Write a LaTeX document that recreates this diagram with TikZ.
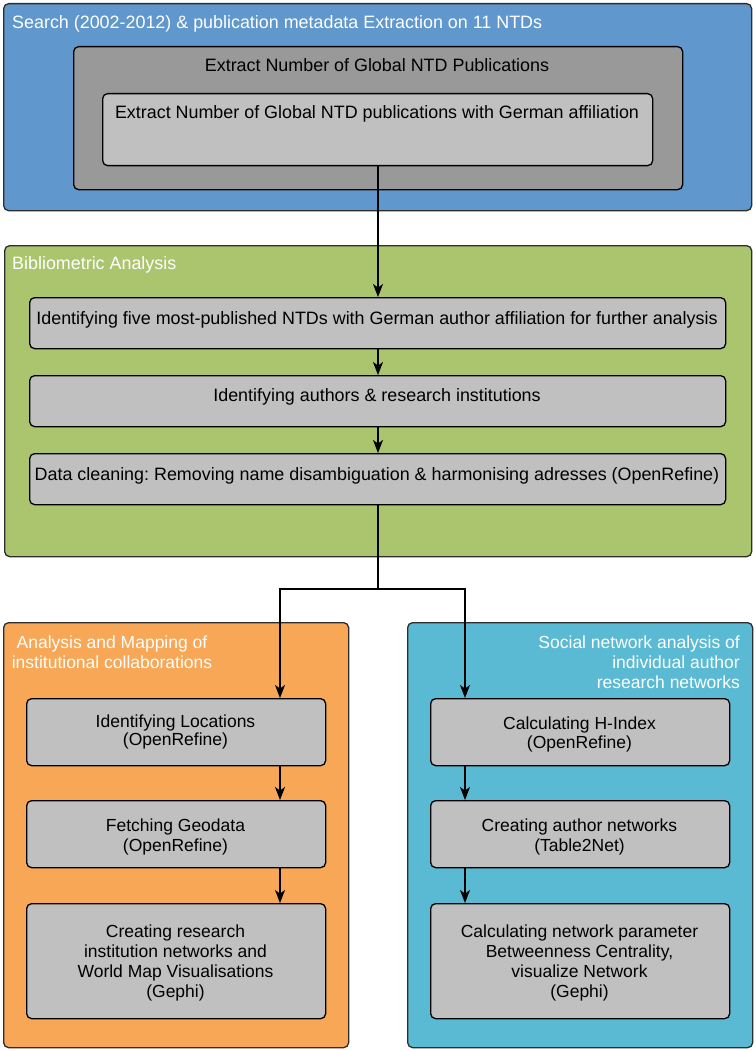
\documentclass[tikz,border=0pt]{standalone}
\usepackage{fontspec}
\setmainfont{Liberation Sans}
\usetikzlibrary{arrows.meta}
\definecolor{cblue}{RGB}{96,151,204}
\definecolor{cgreen}{RGB}{171,196,110}
\definecolor{corange}{RGB}{248,167,87}
\definecolor{cteal}{RGB}{91,186,211}
\definecolor{cdark}{RGB}{153,153,153}
\definecolor{clight}{RGB}{192,192,192}
\definecolor{cedge}{RGB}{45,45,45}
\frenchspacing
\begin{document}
\begin{tikzpicture}[x=1pt,y=-1pt,
  font=\fontsize{17.5}{20}\selectfont,
  big/.style={font=\fontsize{17.9}{20}\selectfont},
  outer/.style={draw=cedge, line width=1.3pt, rounded corners=5pt, anchor=north west, inner sep=0pt},
  box/.style={draw=black, line width=1.3pt, rounded corners=5pt, fill=clight, anchor=north west, inner sep=0pt},
  conn/.style={line width=1.2pt, -{Stealth[length=13pt,width=10pt,inset=3.5pt]}},
  plain/.style={line width=1.2pt},
  ttl/.style={text=white, inner sep=0pt},
  txt/.style={inner sep=0pt, align=center}]
\useasboundingbox (0,0) rectangle (755,1051);

% section 1
\node[outer, fill=cblue, minimum width=748pt, minimum height=207pt] (blue) at (3,3) {};
\node[ttl, big, anchor=base west] (bluet) at (12,29) {Search (2002-2012) \& publication metadata Extraction on 11 NTDs};
\node[box, fill=cdark, minimum width=609pt, minimum height=143pt] (dark) at (73,46) {};
\node[txt, big, anchor=base] (darkt) at (377,72) {Extract Number of Global NTD Publications};
\node[box, minimum width=550pt, minimum height=72pt] (light) at (102,93) {};
\node[txt, big, anchor=base] (lightt) at (377,119) {Extract Number of Global NTD publications with German affiliation};

% section 2
\node[outer, fill=cgreen, minimum width=747pt, minimum height=311pt] (green) at (4,245) {};
\node[ttl, big, anchor=base west] (greent) at (12,269) {Bibliometric Analysis};
\node[box, minimum width=696pt, minimum height=51pt] (g1) at (29,297) {};
\node[txt, big, anchor=base] (g1t) at (377,324) {Identifying five most-published NTDs with German author affiliation for further analysis};
\node[box, minimum width=696pt, minimum height=51pt] (g2) at (29,375) {};
\node[txt, big, anchor=base] (g2t) at (377,401) {Identifying authors \& research institutions};
\node[box, minimum width=696pt, minimum height=51pt] (g3) at (29,453) {};
\node[txt, big, anchor=base] (g3t) at (377,480) {Data cleaning: Removing name disambiguation \& harmonising adresses (OpenRefine)};

% section 3 left
\node[outer, fill=corange, minimum width=345pt, minimum height=425pt] (orange) at (3,622) {};
\node[ttl, align=center] (oranget) at (112,652.5) {Analysis and Mapping of\\institutional collaborations};
\node[box, minimum width=299pt, minimum height=67pt] (o1) at (26,698) {};
\node[txt, font=\fontsize{17.5}{16}\selectfont] (o1t) at (175.5,732) {Identifying Locations\\(OpenRefine)};
\node[box, minimum width=299pt, minimum height=67pt] (o2) at (26,800) {};
\node[txt] (o2t) at (175.5,837) {Fetching Geodata\\(OpenRefine)};
\node[box, minimum width=299pt, minimum height=115pt] (o3) at (26,903) {};
\node[txt] (o3t) at (175.5,963) {Creating research\\institution networks and\\World Map Visualisations\\(Gephi)};

% section 3 right
\node[outer, fill=cteal, minimum width=345pt, minimum height=425pt] (teal) at (407,622) {};
\node[ttl, align=right, anchor=east] (tealt) at (740,662.5) {Social network analysis of\\individual author\\research networks};
\node[box, minimum width=299pt, minimum height=67pt] (t1) at (430,698) {};
\node[txt, font=\fontsize{17.5}{19}\selectfont] (t1t) at (579.5,734) {Calculating H-Index\\(OpenRefine)};
\node[box, minimum width=299pt, minimum height=67pt] (t2) at (430,800) {};
\node[txt] (t2t) at (579.5,836.5) {Creating author networks\\(Table2Net)};
\node[box, minimum width=299pt, minimum height=115pt] (t3) at (430,903) {};
\node[txt] (t3t) at (579.5,963) {Calculating network parameter\\Betweenness Centrality,\\visualize Network\\(Gephi)};

% connectors
\draw[conn] (light.south -| 378,0) -- (g1.north -| 378,0);
\draw[conn] (g1.south -| 378,0) -- (g2.north -| 378,0);
\draw[conn] (g2.south -| 378,0) -- (g3.north -| 378,0);
\coordinate (split) at (378,589);
\draw[plain] (g3.south -| 378,0) -- (split);
\draw[conn] (split) -| (o1.north -| 280,0);
\draw[conn] (split) -| (t1.north -| 465,0);
\draw[conn] (o1.south -| 280,0) -- (o2.north -| 280,0);
\draw[conn] (o2.south -| 280,0) -- (o3.north -| 280,0);
\draw[conn] (t1.south -| 465,0) -- (t2.north -| 465,0);
\draw[conn] (t2.south -| 465,0) -- (t3.north -| 465,0);
\end{tikzpicture}
\end{document}
